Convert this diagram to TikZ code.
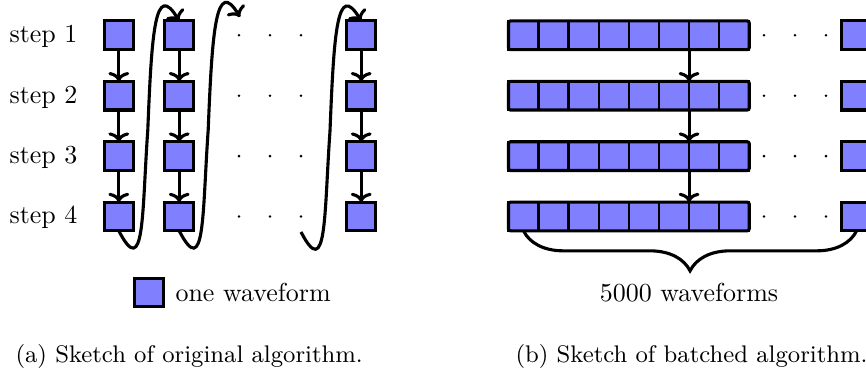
\documentclass[tikz,border=0pt]{standalone}
\usetikzlibrary{arrows.meta,decorations.pathreplacing,calc}
\begin{document}
\begin{tikzpicture}[x=0.385pt,y=0.385pt,
  wf/.style={draw,line width=1.2pt,fill=blue!50,minimum size=11.05pt,inner sep=0pt,outer sep=0pt},
  cell/.style={draw,line width=0.9pt,fill=blue!50,minimum width=11.59pt,minimum height=11.05pt,inner sep=0pt,outer sep=0pt},
  rowframe/.style={line width=1.2pt,rounded corners=0.8pt},
  flow/.style={line width=1.2pt,-{To[length=3.6pt,width=8pt]}},
  lbl/.style={font=\fontsize{10}{12}\selectfont,inner sep=0pt},
  captext/.style={font=\fontsize{9.25}{11}\selectfont,inner sep=0pt}]
\useasboundingbox (0,0) rectangle (866,-378);
\clip (0,0) rectangle (866,-378);

% ---- sequential version: one waveform per column ----
\foreach \c/\x in {1/118.8,2/179.2,3/361.2}
  \foreach \r in {1,...,4}
    \node[wf] (L\c\r) at (\x,{-35.3-60.4*(\r-1)}) {};
\foreach \c in {1,2,3}
  \foreach \r/\s in {1/2,2/3,3/4}
    \draw[flow] (L\c\r.south) -- (L\c\s.north);
\foreach \r in {1,...,4} {
  \node[lbl,anchor=base west] (S\r) at (9,{-42.7-60.4*(\r-1)}) {step \r};
  \foreach \x in {239,270,301}
    \fill (\x,{-35.3-60.4*(\r-1)}) circle (0.55pt);
}
\coordinate (gapTop) at (240,-17);
\coordinate (gapBot) at (301,-232);
% hand-over from the last step of one waveform to the first step of the next
\foreach \from/\to in {L14.south/L21.north, L24.south/gapTop, gapBot/L31.north}
  \draw[flow] (\from) .. controls +(26,-50) and +(-6,-85) .. ($(\from)+(29,101)$)
                      .. controls +(4,100) and +(-24,40) .. (\to);

\node[wf] (key) at (149,-292.5) {};
\node[lbl,anchor=base west] (keytext) at (175,-302) {one waveform};
\node[captext,anchor=base west] (capA) at (15,-363) {(a) Sketch of original algorithm.};

% ---- batched version: all waveforms of a step at once ----
\foreach \r in {1,...,4} {
  \pgfmathsetmacro\yy{-35.3-60.4*(\r-1)}
  \foreach \k in {1,...,8}
    \node[cell] (R\r-\k) at ({523.5+30.1*(\k-1)},\yy) {};
  \draw[rowframe] (R\r-1.north west) rectangle (R\r-8.south east);
  \foreach \x in {764,795,826}
    \fill (\x,\yy) circle (0.55pt);
  \node[wf,minimum width=11.59pt] (R\r z) at (856.6,\yy) {};
}
\foreach \r/\s in {1/2,2/3,3/4}
  \draw[flow] (R\r-6.south east) -- (R\s-6.north east);
\draw[line width=1.2pt,decorate,decoration={brace,mirror,amplitude=15.4pt}]
  (R4-1.south) -- (R4z.south);
\node[lbl,anchor=base] (count) at (689,-302) {5000 waveforms};
\node[captext,anchor=base west] (capB) at (515,-363) {(b) Sketch of batched algorithm.};
\end{tikzpicture}
\end{document}
